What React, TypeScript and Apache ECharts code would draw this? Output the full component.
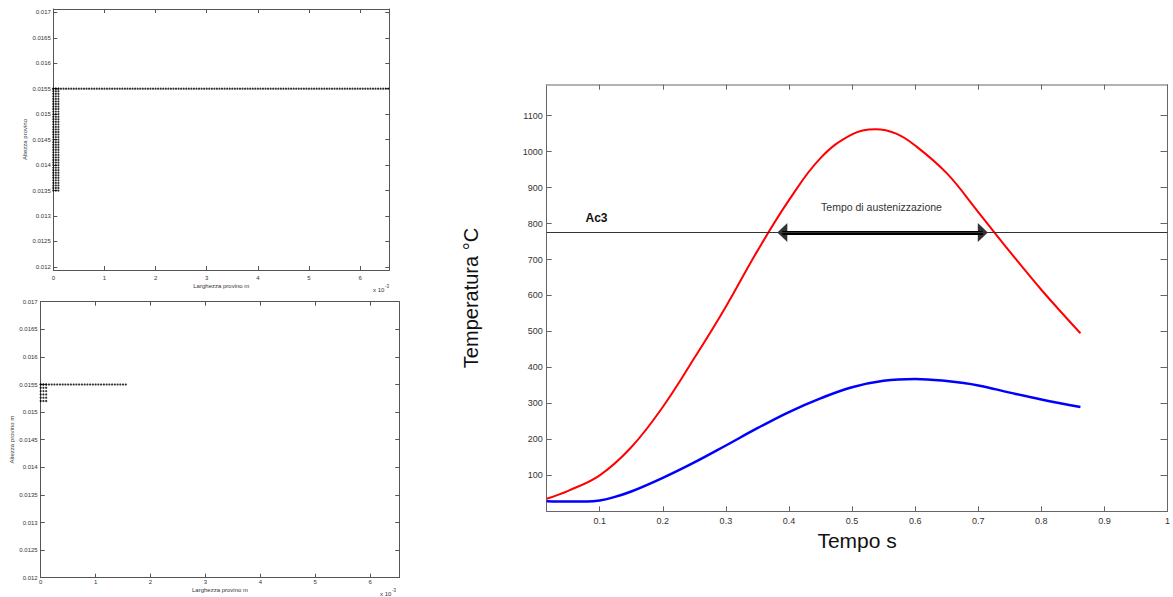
import React, { useEffect, useRef } from "react";
import * as echarts from "echarts";

// ---------- Left charts: mesh nodes (x in units of 1e-3 m, y in m) ----------
const topRowX = [
  0, 0.05, 0.1, 0.15, 0.2, 0.25, 0.3, 0.35, 0.4, 0.45, 0.5, 0.55, 0.6, 0.65, 0.7, 0.75, 0.8, 0.85, 0.9, 0.95,
  1, 1.05, 1.1, 1.15, 1.2, 1.25, 1.3, 1.35, 1.4, 1.45, 1.5, 1.55, 1.6, 1.65, 1.7, 1.75, 1.8, 1.85, 1.9, 1.95,
  2, 2.05, 2.1, 2.15, 2.2, 2.25, 2.3, 2.35, 2.4, 2.45, 2.5, 2.55, 2.6, 2.65, 2.7, 2.75, 2.8, 2.85, 2.9, 2.95,
  3, 3.05, 3.1, 3.15, 3.2, 3.25, 3.3, 3.35, 3.4, 3.45, 3.5, 3.55, 3.6, 3.65, 3.7, 3.75, 3.8, 3.85, 3.9, 3.95,
  4, 4.05, 4.1, 4.15, 4.2, 4.25, 4.3, 4.35, 4.4, 4.45, 4.5, 4.55, 4.6, 4.65, 4.7, 4.75, 4.8, 4.85, 4.9, 4.95,
  5, 5.05, 5.1, 5.15, 5.2, 5.25, 5.3, 5.35, 5.4, 5.45, 5.5, 5.55, 5.6, 5.65, 5.7, 5.75, 5.8, 5.85, 5.9, 5.95,
  6, 6.05, 6.1, 6.15, 6.2, 6.25, 6.3, 6.35, 6.4, 6.45, 6.5, 6.55,
];
const topRowY = 0.0155;
const topColX = [0, 0.05, 0.1];
const topColY = [
  0.0135, 0.01355, 0.0136, 0.01365, 0.0137, 0.01375, 0.0138, 0.01385, 0.0139, 0.01395,
  0.014, 0.01405, 0.0141, 0.01415, 0.0142, 0.01425, 0.0143, 0.01435, 0.0144, 0.01445,
  0.0145, 0.01455, 0.0146, 0.01465, 0.0147, 0.01475, 0.0148, 0.01485, 0.0149, 0.01495,
  0.015, 0.01505, 0.0151, 0.01515, 0.0152, 0.01525, 0.0153, 0.01535, 0.0154, 0.01545, 0.0155,
];

const botRowX = [
  0, 0.05, 0.1, 0.15, 0.2, 0.25, 0.3, 0.35, 0.4, 0.45, 0.5, 0.55, 0.6, 0.65, 0.7, 0.75,
  0.8, 0.85, 0.9, 0.95, 1, 1.05, 1.1, 1.15, 1.2, 1.25, 1.3, 1.35, 1.4, 1.45, 1.5, 1.55,
];
const botRowY = 0.0155;
const botColX = [0, 0.05, 0.1];
const botColY = [0.0152, 0.01526, 0.01532, 0.01538, 0.01544, 0.0155];

const meshXTicks = [0, 1, 2, 3, 4, 5, 6];
const meshYTicks = [0.012, 0.0125, 0.013, 0.0135, 0.014, 0.0145, 0.015, 0.0155, 0.016, 0.0165, 0.017];

// ---------- Right chart: temperature vs time ----------
const redTime = [0.016, 0.05, 0.1, 0.15, 0.2, 0.25, 0.3, 0.35, 0.4, 0.45, 0.5, 0.537, 0.57, 0.6, 0.65, 0.7, 0.75, 0.8, 0.862];
const redTemp = [35, 57, 100, 178, 290, 426, 569, 724, 865, 982, 1048, 1062, 1050, 1017, 940, 832, 722, 616, 495];
const blueTime = [0.016, 0.05, 0.08, 0.1, 0.12, 0.15, 0.2, 0.25, 0.3, 0.35, 0.4, 0.45, 0.5, 0.55, 0.6, 0.65, 0.7, 0.75, 0.8, 0.862];
const blueTemp = [28, 27, 27, 30, 38, 55, 93, 136, 183, 231, 276, 314, 345, 363, 368, 362, 350, 330, 311, 290];
const ac3 = 775;
const austStart = 0.3895;
const austEnd = 0.7073;
const timeTicks = [0.1, 0.2, 0.3, 0.4, 0.5, 0.6, 0.7, 0.8, 0.9, 1];
const tempTicks = [100, 200, 300, 400, 500, 600, 700, 800, 900, 1000, 1100];

const FONT = "'Liberation Sans', Arial, Helvetica, sans-serif";

function meshData(rowX: number[], rowY: number, colX: number[], colY: number[]) {
  const pts: number[][] = rowX.map((x) => [x, rowY]);
  colX.forEach((x) => colY.forEach((y) => pts.push([x, y])));
  return pts;
}

function fmtNum(v: number) {
  return String(parseFloat(v.toFixed(5)));
}

export default function App() {
  const ref = useRef<HTMLDivElement>(null);
  useEffect(() => {
    const chart = echarts.init(ref.current!, null, { renderer: "svg" });
    const lineCol = "#555";
    const smallLabel = { fontSize: 6, color: "#333", fontFamily: FONT };

    const meshAxesX = (gridIndex: number, max: number, name: string, labelMargin: number, nameGap: number) => [
      {
        type: "value", gridIndex, min: 0, max, position: "bottom",
        axisLine: { show: true, onZero: false, lineStyle: { color: lineCol, width: 1 } },
        axisTick: { show: true, inside: true, length: 4, customValues: meshXTicks, lineStyle: { color: lineCol } },
        axisLabel: { ...smallLabel, margin: labelMargin, customValues: meshXTicks, formatter: (v: number) => String(Math.round(v)) },
        splitLine: { show: false },
        name, nameLocation: "middle", nameGap, nameTextStyle: { ...smallLabel },
      },
      {
        type: "value", gridIndex, min: 0, max, position: "top",
        axisLine: { show: true, onZero: false, lineStyle: { color: lineCol, width: 1 } },
        axisTick: { show: true, inside: true, length: 4, customValues: meshXTicks, lineStyle: { color: lineCol } },
        axisLabel: { show: false },
        splitLine: { show: false },
      },
    ];
    const meshAxesY = (gridIndex: number, min: number, max: number, name: string, labelMargin: number, nameGap: number) => [
      {
        type: "value", gridIndex, min, max, position: "left",
        axisLine: { show: true, onZero: false, lineStyle: { color: lineCol, width: 1 } },
        axisTick: { show: true, inside: true, length: 4, customValues: meshYTicks, lineStyle: { color: lineCol } },
        axisLabel: { ...smallLabel, margin: labelMargin, customValues: meshYTicks, formatter: (v: number) => fmtNum(v) },
        splitLine: { show: false },
        name, nameLocation: "middle", nameGap, nameTextStyle: { ...smallLabel },
      },
      {
        type: "value", gridIndex, min, max, position: "right",
        axisLine: { show: true, onZero: false, lineStyle: { color: lineCol, width: 1 } },
        axisTick: { show: true, inside: true, length: 4, customValues: meshYTicks, lineStyle: { color: lineCol } },
        axisLabel: { show: false },
        splitLine: { show: false },
      },
    ];

    const bigLabel = { fontSize: 9, color: "#333", fontFamily: FONT };
    const rCol = "#666";

    const option: any = {
      animation: false,
      textStyle: { fontFamily: FONT },
      grid: [
        { left: 53.3, top: 9, width: 336, height: 261 },
        { left: 40.7, top: 301.7, width: 358.6, height: 276 },
        { left: 546.7, top: 84.7, width: 625.6, height: 426.6 },
      ],
      xAxis: [
        ...meshAxesX(0, 6.57, "Larghezza provino m", 5, 13),
        ...meshAxesX(1, 6.53, "Larghezza provino m", 1, 9),
        {
          type: "value", gridIndex: 2, min: 0.016, max: 1, position: "bottom",
          axisLine: { show: true, onZero: false, lineStyle: { color: rCol, width: 1 } },
          axisTick: { show: true, inside: true, length: 5, customValues: timeTicks, lineStyle: { color: rCol } },
          axisLabel: { ...bigLabel, margin: 5, customValues: timeTicks, formatter: (v: number) => fmtNum(v) },
          splitLine: { show: false },
          name: "Tempo s", nameLocation: "middle", nameGap: 17,
          nameTextStyle: { fontSize: 21, color: "#111", fontFamily: FONT },
        },
        {
          type: "value", gridIndex: 2, min: 0.016, max: 1, position: "top",
          axisLine: { show: true, onZero: false, lineStyle: { color: "#999", width: 1.5 } },
          axisTick: { show: true, inside: true, length: 5, customValues: timeTicks, lineStyle: { color: rCol } },
          axisLabel: { show: false },
          splitLine: { show: false },
        },
      ],
      yAxis: [
        ...meshAxesY(0, 0.01194, 0.017065, "Altezza provino", 2.5, 25.3),
        ...meshAxesY(1, 0.012, 0.017, "Altezza provino m", 3, 24.4),
        {
          type: "value", gridIndex: 2, min: 0, max: 1186, position: "left",
          axisLine: { show: true, onZero: false, lineStyle: { color: rCol, width: 1 } },
          axisTick: { show: true, inside: true, length: 5, customValues: tempTicks, lineStyle: { color: rCol } },
          axisLabel: { ...bigLabel, margin: 4, customValues: tempTicks, formatter: (v: number) => String(v) },
          splitLine: { show: false },
          name: "Temperatura °C", nameLocation: "middle", nameGap: 66,
          nameTextStyle: { fontSize: 20, color: "#111", fontFamily: FONT },
        },
        {
          type: "value", gridIndex: 2, min: 0, max: 1186, position: "right",
          axisLine: { show: true, onZero: false, lineStyle: { color: rCol, width: 1 } },
          axisTick: { show: true, inside: true, length: 7, customValues: tempTicks, lineStyle: { color: rCol } },
          axisLabel: { show: false },
          splitLine: { show: false },
        },
      ],
      series: [
        {
          type: "scatter", xAxisIndex: 0, yAxisIndex: 0, silent: true,
          symbol: "circle", symbolSize: 2.2, itemStyle: { color: "#000" },
          data: meshData(topRowX, topRowY, topColX, topColY),
        },
        {
          type: "scatter", xAxisIndex: 2, yAxisIndex: 2, silent: true,
          symbol: "circle", symbolSize: 2.2, itemStyle: { color: "#000" },
          data: meshData(botRowX, botRowY, botColX, botColY),
        },
        {
          type: "line", xAxisIndex: 4, yAxisIndex: 4, smooth: 0.4, symbol: "none", silent: true,
          lineStyle: { color: "#ff0000", width: 2 },
          data: redTime.map((t, i) => [t, redTemp[i]]),
          markLine: {
            silent: true, symbol: ["none", "none"],
            label: { show: false },
            lineStyle: { color: "#000", width: 4, type: "solid" },
            data: [[{ coord: [austStart, ac3] }, { coord: [austEnd, ac3] }]],
          },
        },
        {
          type: "line", xAxisIndex: 4, yAxisIndex: 4, smooth: 0.4, symbol: "none", silent: true,
          lineStyle: { color: "#0000ff", width: 2.5 },
          data: blueTime.map((t, i) => [t, blueTemp[i]]),
          markLine: {
            silent: true, symbol: ["none", "none"], label: { show: false },
            lineStyle: { color: "#333", width: 1, type: "solid" },
            data: [{ yAxis: ac3 }],
          },
        },
        {
          type: "scatter", xAxisIndex: 4, yAxisIndex: 4, silent: true,
          symbol: "triangle", symbolSize: [19, 10], itemStyle: { color: "#000" },
          data: [
            { value: [austStart, ac3], symbolRotate: 90 },
            { value: [austEnd, ac3], symbolRotate: -90 },
          ],
        },
      ],
      graphic: [
        { type: "text", x: 596.5, y: 218, style: { text: "Ac3", font: `bold 12px ${FONT}`, fill: "#111", align: "center", verticalAlign: "middle" } },
        { type: "text", x: 881.5, y: 207, style: { text: "Tempo di austenizzazione", font: `10.5px ${FONT}`, fill: "#333", align: "center", verticalAlign: "middle" } },
        { type: "text", x: 373, y: 290, style: { text: "x 10", font: `6px ${FONT}`, fill: "#333", align: "left", verticalAlign: "middle" } },
        { type: "text", x: 385, y: 286, style: { text: "-3", font: `4.5px ${FONT}`, fill: "#333", align: "left", verticalAlign: "middle" } },
        { type: "text", x: 380, y: 594, style: { text: "x 10", font: `6px ${FONT}`, fill: "#333", align: "left", verticalAlign: "middle" } },
        { type: "text", x: 392, y: 590, style: { text: "-3", font: `4.5px ${FONT}`, fill: "#333", align: "left", verticalAlign: "middle" } },
      ],
    };
    chart.setOption(option);
    return () => chart.dispose();
  }, []);
  return (
    <div
      ref={ref}
      style={{ position: "absolute", left: 0, top: 0, width: 1173, height: 597, background: "#fff" }}
    />
  );
}
